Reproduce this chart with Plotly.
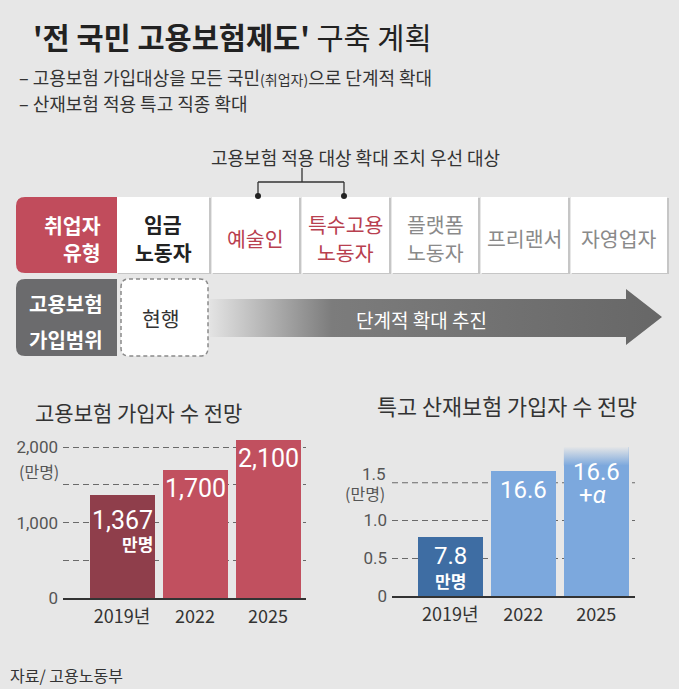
import plotly.graph_objects as go

# ---------------- data ----------------
emp_years = ["2019년", "2022", "2025"]
emp_values = [1367, 1700, 2100]          # 고용보험 가입자 수 (만명)
emp_labels = ["1,367", "1,700", "2,100"]
emp_ticks = [0, 500, 1000, 1500, 2000]
emp_ticktext = ["0", "", "1,000", "", "2,000"]

sp_years = ["2019년", "2022", "2025"]
sp_values = [0.78, 1.66, 1.98]           # 특고 산재보험 가입자 수 (axis units)
sp_labels = ["7.8", "16.6", "16.6"]
sp_ticks = [0, 0.5, 1.0, 1.5]
sp_ticktext = ["0", "0.5", "1.0", "1.5"]

worker_types = ["임금<br>노동자", "예술인", "특수고용<br>노동자", "플랫폼<br>노동자", "프리랜서", "자영업자"]

# ---------------- style ----------------
BG = "#e7e7e7"
KR = "Noto Sans CJK KR"
NUM = "Roboto"
RED_DARK, RED = "#8f3e4b", "#c1505f"
BLUE_DARK, BLUE = "#3e6da3", "#7ca8dd"
W, H = 679, 689          # design grid (reference pixels)
FIG_H = 699              # page height as photographed
BW = 0.89

fig = go.Figure()

# left chart bars
fig.add_trace(go.Bar(
    x=list(range(len(emp_years))), y=emp_values, width=BW,
    marker=dict(color=[RED_DARK] + [RED] * (len(emp_values) - 1), line=dict(width=0)),
    xaxis="x", yaxis="y", hoverinfo="skip", showlegend=False))

# right chart bars
fig.add_trace(go.Bar(
    x=list(range(len(sp_years))), y=sp_values, width=BW,
    marker=dict(color=[BLUE_DARK] + [BLUE] * (len(sp_values) - 1), line=dict(width=0)),
    xaxis="x2", yaxis="y2", hoverinfo="skip", showlegend=False))

# fade at the top of the last (open-ended) bar
i_last = len(sp_values) - 1
hi = sp_values[i_last]
lo = hi - 0.25
fig.add_trace(go.Scatter(
    x=[i_last - BW / 2, i_last + BW / 2, i_last + BW / 2, i_last - BW / 2, i_last - BW / 2],
    y=[lo, lo, hi, hi, lo], mode="lines", line=dict(width=0), fill="toself",
    fillgradient=dict(type="vertical", colorscale=[[0, BLUE], [1, BG]], start=lo, stop=hi),
    xaxis="x2", yaxis="y2", hoverinfo="skip", showlegend=False))

# gradient arrow (diagram, pixel overlay axes)
ax_x = [210, 626, 626, 662, 626, 626, 210, 210]
ax_y = [299, 299, 289, 317, 345, 337, 337, 299]
fig.add_trace(go.Scatter(
    x=ax_x, y=ax_y, mode="lines", line=dict(width=0), fill="toself",
    fillgradient=dict(type="horizontal",
                      colorscale=[[0, "#e3e3e3"], [0.27, "#7c7c7c"], [1, "#676767"]],
                      start=210, stop=662),
    xaxis="x3", yaxis="y3", hoverinfo="skip", showlegend=False))

shapes = []
ann = []

def px_ann(x, y, text, size, color="#333", xanchor="center", bold=False, family=KR, **kw):
    t = f"<b>{text}</b>" if bold else text
    ann.append(dict(x=x, y=y, xref="x3", yref="y3", text=t, showarrow=False,
                    xanchor=xanchor, yanchor="middle",
                    font=dict(family=family, size=size, color=color), **kw))

def rect(x0, y0, x1, y1, fill, **kw):
    shapes.append(dict(type="rect", xref="x3", yref="y3", x0=x0, y0=y0, x1=x1, y1=y1,
                       fillcolor=fill, line=dict(width=0), layer="below", **kw))

# title & subtitles
px_ann(31, 36, "<b>'전 국민 고용보험제도'</b> 구축 계획", 29.5, "#222", xanchor="left")
px_ann(17, 77, "– 고용보험 가입대상을 모든 국민<span style='font-size:14px'>(취업자)</span>으로 단계적 확대",
       18, "#333", xanchor="left")
px_ann(17, 103, "– 산재보험 적용 특고 직종 확대", 18, "#333", xanchor="left")

# bracket
px_ann(355, 157, "고용보험 적용 대상 확대 조치 우선 대상", 18, "#333")
for (x0, y0, x1, y1) in [(302, 168, 302, 182), (258, 182, 344, 182), (258, 182, 258, 195), (344, 182, 344, 195)]:
    shapes.append(dict(type="line", xref="x3", yref="y3", x0=x0, y0=y0, x1=x1, y1=y1,
                       line=dict(color="#333", width=1.3)))
for cx in (258, 344):
    shapes.append(dict(type="circle", xref="x3", yref="y3", x0=cx - 3, y0=193, x1=cx + 3, y1=199,
                       fillcolor="#222", line=dict(width=0)))

# header boxes
shapes.append(dict(type="path", xref="x3", yref="y3", layer="below",
                   path="M 117,197 L 25,197 Q 16,197 16,206 L 16,264 Q 16,273 25,273 L 117,273 Z",
                   fillcolor="#c14c5c", line=dict(width=0)))
shapes.append(dict(type="path", xref="x3", yref="y3", layer="below",
                   path="M 117,279 L 25,279 Q 16,279 16,288 L 16,347 Q 16,356 25,356 L 117,356 Z",
                   fillcolor="#6b6b6d", line=dict(width=0)))
shapes.append(dict(type="path", xref="x3", yref="y3", layer="below",
                   path="M 129,279 L 200,279 Q 208,279 208,287 L 208,348 Q 208,356 200,356 "
                        "L 129,356 Q 121,356 121,348 L 121,287 Q 121,279 129,279 Z",
                   fillcolor="#ffffff", line=dict(color="#8a8a8a", width=1.5, dash="4px,3px")))

cells = [(117, 209), (212, 299), (302, 389), (392, 478), (481, 568), (571, 667)]
for (x0, x1) in cells:
    rect(x0 + 1, 198, x1 + 2, 274, "#c6c6c6")
for (x0, x1) in cells:
    rect(x0, 197, x1, 273, "#ffffff")

cell_colors = ["#222", "#b8404f", "#b8404f", "#8a8a8a", "#8a8a8a", "#8a8a8a"]
cell_bold = [True, False, False, False, False, False]
for (x0, x1), label, col, b in zip(cells, worker_types, cell_colors, cell_bold):
    cx = (x0 + x1) / 2
    parts = label.split("<br>")
    if len(parts) == 2:
        px_ann(cx, 224, parts[0], 20.5, col, bold=b)
        px_ann(cx, 252, parts[1], 20.5, col, bold=b)
    else:
        px_ann(cx, 238, parts[0], 20.5, col, bold=b)

px_ann(103, 225, "취업자", 20.5, "#ffffff", xanchor="right", bold=True)
px_ann(103, 252, "유형", 20.5, "#ffffff", xanchor="right", bold=True)
px_ann(66, 303, "고용보험", 20, "#ffffff", bold=True)
px_ann(66, 339, "가입범위", 20, "#ffffff", bold=True)
px_ann(161, 318, "현행", 20.5, "#333")
px_ann(421, 319, "단계적 확대 추진", 19, "#ffffff")

# chart titles, units, source
px_ann(33, 412, "고용보험 가입자 수 전망", 21, "#333", xanchor="left")
px_ann(375, 405, "특고 산재보험 가입자 수 전망", 21.8, "#333", xanchor="left")
px_ann(39, 471, "(만명)", 16, "#555")
px_ann(365, 493, "(만명)", 16, "#555")
px_ann(8, 675, "자료/ 고용노동부", 16, "#333", xanchor="left")

# top tick label of the right chart sits just above its gridline to leave room for the unit
ann.append(dict(x=0, y=sp_ticks[-1], xref="x2 domain", yref="y2", text=sp_ticktext[-1],
                showarrow=False, xanchor="right", yanchor="middle", xshift=-4, yshift=9,
                font=dict(family=NUM, size=17, color="#555")))

# bar value labels
for i, (v, lab) in enumerate(zip(emp_values, emp_labels)):
    off = 26 if i == 0 else 19
    ann.append(dict(x=i, y=v, xref="x", yref="y", text=lab, showarrow=False, yanchor="middle",
                    yshift=-off, font=dict(family=NUM, size=25, color="#ffffff")))
ann.append(dict(x=0, y=emp_values[0], xref="x", yref="y", text="<b>만명</b>", showarrow=False,
                yanchor="middle", yshift=-49, xshift=15, font=dict(family=KR, size=17, color="#ffffff")))

for i, (v, lab) in enumerate(zip(sp_values, sp_labels)):
    off = 25 if i == len(sp_values) - 1 else 19
    ann.append(dict(x=i, y=v, xref="x2", yref="y2", text=lab, showarrow=False, yanchor="middle",
                    yshift=-off, font=dict(family=NUM, size=24, color="#ffffff")))
ann.append(dict(x=0, y=sp_values[0], xref="x2", yref="y2", text="<b>만명</b>", showarrow=False,
                yanchor="middle", yshift=-43, font=dict(family=KR, size=17, color="#ffffff")))
ann.append(dict(x=i_last, y=sp_values[i_last], xref="x2", yref="y2", text="+<i>α</i>", showarrow=False,
                yanchor="middle", yshift=-48, xshift=-4, font=dict(family=NUM, size=24, color="#ffffff")))

def yd(top_px, bottom_px):
    return [1 - bottom_px / H, 1 - top_px / H]

axis_common = dict(showgrid=False, zeroline=False, ticks="", fixedrange=True)
grid_common = dict(showgrid=True, gridcolor="#6a6a6a", gridwidth=1, griddash="6px,4px",
                   zeroline=False, ticks="", showline=False, fixedrange=True,
                   tickfont=dict(family=NUM, size=17, color="#555"), ticklabelstandoff=4)

# right-chart gridline for the top tick (its label is an annotation)
shapes.append(dict(type="line", xref="x2 domain", yref="y2", x0=0, x1=1, y0=sp_ticks[-1], y1=sp_ticks[-1],
                   line=dict(color="#6a6a6a", width=1, dash="6px,4px"), layer="below"))

fig.update_layout(
    width=W, height=FIG_H, margin=dict(l=0, r=0, t=0, b=0),
    paper_bgcolor=BG, plot_bgcolor="rgba(0,0,0,0)",
    bargap=0, showlegend=False,
    xaxis=dict(domain=[63 / W, 306 / W], range=[-0.81, 2.52], tickvals=list(range(len(emp_years))),
               ticktext=emp_years, showline=True, linecolor="#333", linewidth=1.5,
               tickfont=dict(family=KR, size=18, color="#333"), ticklabelstandoff=2, **axis_common),
    yaxis=dict(domain=yd(432, 598), range=[0, 2200], tickvals=emp_ticks, ticktext=emp_ticktext,
               **grid_common),
    xaxis2=dict(domain=[392 / W, 635 / W], range=[-0.80, 2.53], tickvals=list(range(len(sp_years))),
                ticktext=sp_years, showline=True, linecolor="#333", linewidth=1.5, anchor="y2",
                tickfont=dict(family=KR, size=18, color="#333"), ticklabelstandoff=2, **axis_common),
    yaxis2=dict(domain=yd(445, 596), range=[0, 2.0], tickvals=sp_ticks[:-1], ticktext=sp_ticktext[:-1],
                anchor="x2", **grid_common),
    xaxis3=dict(domain=[0, 1], range=[0, W], visible=False, anchor="y3", fixedrange=True),
    yaxis3=dict(domain=[0, 1], range=[H, 0], visible=False, anchor="x3", fixedrange=True),
    shapes=shapes, annotations=ann,
)

post = ("document.documentElement.style.margin='0';document.documentElement.style.overflow='hidden';"
        "document.documentElement.style.background='" + BG + "';"
        "document.body.style.margin='0';document.body.style.overflow='hidden';"
        "document.body.style.background='" + BG + "';"
        "var gd=document.querySelector('.plotly-graph-div');"
        "gd.style.position='absolute';gd.style.left='0px';gd.style.top='0px';")
fig.write_html("out.html", config={"displayModeBar": False}, post_script=post)
